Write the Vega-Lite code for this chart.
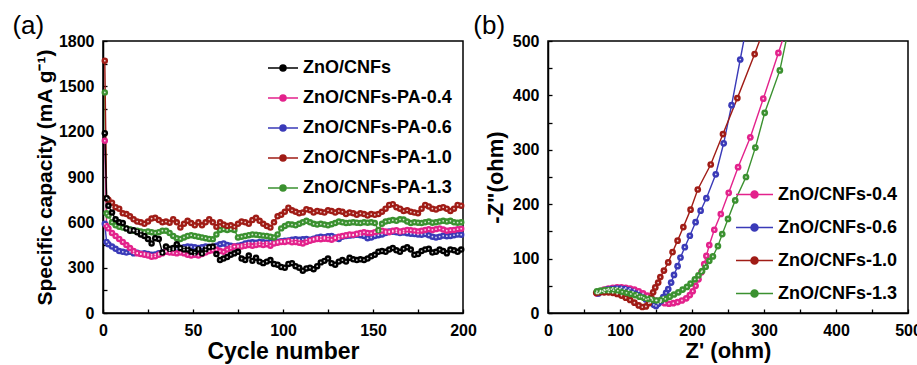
{
  "$schema": "https://vega.github.io/schema/vega-lite/v6.json",
  "padding": {"left": 11, "top": 12, "right": 0, "bottom": 0},
  "background": "white",
  "spacing": -6,
  "config": {
    "view": {"stroke": "#000", "strokeWidth": 1.5},
    "font": "Liberation Sans",
    "axis": {"grid": false, "domainColor": "#000", "domainWidth": 1.5, "tickColor": "#000", "tickWidth": 1.3, "tickSize": -4, "labelPadding": 13, "labelFont": "Liberation Sans", "labelFontWeight": "bold", "labelFontSize": 16, "labelColor": "#000", "titleFont": "Liberation Sans", "titleFontWeight": "bold", "titleColor": "#000", "labelFlush": false, "labelOverlap": false},
    "legend": {"labelFont": "Liberation Sans", "labelFontWeight": "bold", "labelFontSize": 18, "labelColor": "#000", "symbolStrokeWidth": 1.5, "labelOffset": 4, "title": null}
  },
  "resolve": {"scale": {"color": "independent"}, "legend": {"color": "independent"}},
  "hconcat": [
    {
      "width": 360, "height": 272,
      "title": {"text": "(a)", "anchor": "start", "frame": "bounds", "fontSize": 26, "font": "Liberation Sans", "fontWeight": "normal", "color": "#000", "dx": -22, "offset": -6},
      "data": {"values": [
        {"c":1,"k0":1190,"k4":1140,"k6":590,"k10":1670,"k13":1460},
        {"c":2,"k0":760,"k4":575,"k6":470,"k10":760,"k13":660},
        {"c":3,"k0":710,"k4":560,"k6":455,"k10":750,"k13":645},
        {"c":5,"k0":665,"k4":530,"k6":440,"k10":730,"k13":600},
        {"c":7,"k0":620,"k4":510,"k6":425,"k10":700,"k13":580},
        {"c":9,"k0":600,"k4":490,"k6":410,"k10":690,"k13":570},
        {"c":11,"k0":595,"k4":470,"k6":405,"k10":660,"k13":565},
        {"c":13,"k0":560,"k4":450,"k6":400,"k10":655,"k13":560},
        {"c":15,"k0":545,"k4":430,"k6":405,"k10":640,"k13":555},
        {"c":17,"k0":548,"k4":410,"k6":395,"k10":620,"k13":545},
        {"c":19,"k0":535,"k4":395,"k6":398,"k10":605,"k13":545},
        {"c":21,"k0":520,"k4":390,"k6":392,"k10":600,"k13":540},
        {"c":23,"k0":510,"k4":385,"k6":395,"k10":590,"k13":535},
        {"c":25,"k0":490,"k4":380,"k6":390,"k10":605,"k13":540},
        {"c":27,"k0":460,"k4":372,"k6":385,"k10":625,"k13":535},
        {"c":29,"k0":495,"k4":375,"k6":388,"k10":630,"k13":530},
        {"c":31,"k0":490,"k4":385,"k6":395,"k10":615,"k13":535},
        {"c":33,"k0":400,"k4":395,"k6":400,"k10":600,"k13":545},
        {"c":35,"k0":440,"k4":405,"k6":410,"k10":605,"k13":545},
        {"c":37,"k0":425,"k4":400,"k6":415,"k10":598,"k13":530},
        {"c":39,"k0":430,"k4":398,"k6":420,"k10":620,"k13":510},
        {"c":41,"k0":455,"k4":395,"k6":425,"k10":600,"k13":495},
        {"c":43,"k0":430,"k4":400,"k6":430,"k10":565,"k13":490},
        {"c":45,"k0":420,"k4":395,"k6":435,"k10":590,"k13":500},
        {"c":47,"k0":420,"k4":385,"k6":440,"k10":610,"k13":510},
        {"c":49,"k0":405,"k4":380,"k6":438,"k10":595,"k13":515},
        {"c":51,"k0":400,"k4":385,"k6":435,"k10":580,"k13":510},
        {"c":53,"k0":420,"k4":380,"k6":430,"k10":600,"k13":505},
        {"c":55,"k0":395,"k4":390,"k6":435,"k10":580,"k13":500},
        {"c":57,"k0":420,"k4":400,"k6":440,"k10":600,"k13":495},
        {"c":59,"k0":435,"k4":410,"k6":438,"k10":620,"k13":490},
        {"c":61,"k0":440,"k4":415,"k6":435,"k10":600,"k13":488},
        {"c":63,"k0":390,"k4":420,"k6":445,"k10":570,"k13":520},
        {"c":65,"k0":350,"k4":410,"k6":455,"k10":600,"k13":550},
        {"c":67,"k0":360,"k4":405,"k6":460,"k10":585,"k13":555},
        {"c":69,"k0":370,"k4":420,"k6":450,"k10":575,"k13":550},
        {"c":71,"k0":385,"k4":430,"k6":445,"k10":580,"k13":555},
        {"c":73,"k0":395,"k4":440,"k6":440,"k10":570,"k13":550},
        {"c":75,"k0":405,"k4":438,"k6":445,"k10":590,"k13":500},
        {"c":77,"k0":360,"k4":440,"k6":450,"k10":605,"k13":505},
        {"c":79,"k0":350,"k4":445,"k6":460,"k10":600,"k13":510},
        {"c":81,"k0":380,"k4":450,"k6":465,"k10":590,"k13":515},
        {"c":83,"k0":345,"k4":445,"k6":468,"k10":615,"k13":520},
        {"c":85,"k0":365,"k4":450,"k6":465,"k10":630,"k13":518},
        {"c":87,"k0":340,"k4":455,"k6":470,"k10":610,"k13":515},
        {"c":89,"k0":330,"k4":450,"k6":468,"k10":590,"k13":512},
        {"c":91,"k0":340,"k4":455,"k6":465,"k10":575,"k13":510},
        {"c":93,"k0":350,"k4":445,"k6":470,"k10":565,"k13":505},
        {"c":95,"k0":325,"k4":460,"k6":468,"k10":600,"k13":500},
        {"c":97,"k0":320,"k4":465,"k6":472,"k10":640,"k13":520},
        {"c":99,"k0":305,"k4":470,"k6":475,"k10":650,"k13":560},
        {"c":101,"k0":300,"k4":470,"k6":478,"k10":670,"k13":575},
        {"c":103,"k0":325,"k4":475,"k6":480,"k10":697,"k13":587},
        {"c":105,"k0":330,"k4":468,"k6":485,"k10":680,"k13":585},
        {"c":107,"k0":310,"k4":470,"k6":488,"k10":670,"k13":580},
        {"c":109,"k0":300,"k4":465,"k6":485,"k10":660,"k13":590},
        {"c":111,"k0":280,"k4":460,"k6":488,"k10":665,"k13":600},
        {"c":113,"k0":295,"k4":470,"k6":490,"k10":686,"k13":610},
        {"c":115,"k0":300,"k4":478,"k6":485,"k10":680,"k13":600},
        {"c":117,"k0":290,"k4":485,"k6":492,"k10":665,"k13":590},
        {"c":119,"k0":310,"k4":490,"k6":500,"k10":675,"k13":585},
        {"c":121,"k0":335,"k4":488,"k6":505,"k10":670,"k13":590},
        {"c":123,"k0":345,"k4":492,"k6":502,"k10":665,"k13":585},
        {"c":125,"k0":360,"k4":490,"k6":508,"k10":680,"k13":580},
        {"c":127,"k0":330,"k4":485,"k6":510,"k10":675,"k13":588},
        {"c":129,"k0":320,"k4":495,"k6":500,"k10":665,"k13":595},
        {"c":131,"k0":340,"k4":505,"k6":490,"k10":675,"k13":605},
        {"c":133,"k0":350,"k4":510,"k6":505,"k10":670,"k13":600},
        {"c":135,"k0":340,"k4":515,"k6":510,"k10":655,"k13":595},
        {"c":137,"k0":365,"k4":520,"k6":512,"k10":665,"k13":598},
        {"c":139,"k0":355,"k4":518,"k6":515,"k10":660,"k13":600},
        {"c":141,"k0":350,"k4":525,"k6":518,"k10":650,"k13":598},
        {"c":143,"k0":355,"k4":530,"k6":515,"k10":660,"k13":595},
        {"c":145,"k0":350,"k4":535,"k6":510,"k10":655,"k13":600},
        {"c":147,"k0":360,"k4":530,"k6":495,"k10":645,"k13":598},
        {"c":149,"k0":375,"k4":528,"k6":500,"k10":655,"k13":600},
        {"c":151,"k0":385,"k4":535,"k6":510,"k10":650,"k13":595},
        {"c":153,"k0":405,"k4":540,"k6":515,"k10":655,"k13":550},
        {"c":155,"k0":410,"k4":545,"k6":520,"k10":670,"k13":590},
        {"c":157,"k0":405,"k4":540,"k6":530,"k10":690,"k13":605},
        {"c":159,"k0":420,"k4":535,"k6":540,"k10":715,"k13":610},
        {"c":161,"k0":430,"k4":545,"k6":538,"k10":720,"k13":615},
        {"c":163,"k0":415,"k4":548,"k6":535,"k10":700,"k13":610},
        {"c":165,"k0":405,"k4":540,"k6":530,"k10":690,"k13":620},
        {"c":167,"k0":425,"k4":545,"k6":532,"k10":675,"k13":618},
        {"c":169,"k0":435,"k4":550,"k6":528,"k10":680,"k13":605},
        {"c":171,"k0":420,"k4":548,"k6":525,"k10":670,"k13":595},
        {"c":173,"k0":385,"k4":545,"k6":522,"k10":665,"k13":600},
        {"c":175,"k0":390,"k4":540,"k6":520,"k10":660,"k13":598},
        {"c":177,"k0":410,"k4":545,"k6":518,"k10":690,"k13":595},
        {"c":179,"k0":420,"k4":550,"k6":522,"k10":715,"k13":600},
        {"c":181,"k0":425,"k4":555,"k6":515,"k10":705,"k13":605},
        {"c":183,"k0":400,"k4":550,"k6":505,"k10":690,"k13":598},
        {"c":185,"k0":405,"k4":555,"k6":500,"k10":685,"k13":600},
        {"c":187,"k0":420,"k4":560,"k6":505,"k10":695,"k13":605},
        {"c":189,"k0":410,"k4":552,"k6":512,"k10":700,"k13":610},
        {"c":191,"k0":395,"k4":545,"k6":508,"k10":690,"k13":605},
        {"c":193,"k0":420,"k4":548,"k6":510,"k10":675,"k13":610},
        {"c":195,"k0":415,"k4":550,"k6":515,"k10":690,"k13":600},
        {"c":197,"k0":405,"k4":555,"k6":520,"k10":715,"k13":598},
        {"c":199,"k0":420,"k4":558,"k6":518,"k10":710,"k13":600}
      ]},
      "transform": [{"fold": ["k13", "k10", "k6", "k4", "k0"], "as": ["series", "cap"]}],
      "encoding": {
        "x": {"field": "c", "type": "quantitative", "scale": {"domain": [0, 200], "nice": false},
              "axis": {"values": [0,25,50,75,100,125,150,175,200], "labelExpr": "datum.value % 50 == 0 ? datum.label : ''", "title": "Cycle number", "titleFontSize": 23, "titlePadding": 2}},
        "y": {"field": "cap", "type": "quantitative", "scale": {"domain": [0, 1800], "nice": false},
              "axis": {"values": [0,150,300,450,600,750,900,1050,1200,1350,1500,1650,1800], "format": "d", "labelExpr": "datum.value % 300 == 0 ? datum.label : ''", "title": "Specific capacity (mA g⁻¹)", "titleFontSize": 21, "titlePadding": 3}},
        "color": {"field": "series", "type": "nominal",
                  "scale": {"domain": ["k0", "k4", "k6", "k10", "k13"], "range": ["#000000", "#e3228c", "#3a3ab8", "#a01c16", "#3b9130"]},
                  "legend": {"orient": "top-right", "offset": 11, "labelExpr": "{'k0':'ZnO/CNFs','k4':'ZnO/CNFs-PA-0.4','k6':'ZnO/CNFs-PA-0.6','k10':'ZnO/CNFs-PA-1.0','k13':'ZnO/CNFs-PA-1.3'}[datum.value]", "symbolType": "M-1,0H1M-0.2,0A0.2,0.2 0 1,1 0.2,0A0.2,0.2 0 1,1 -0.2,0Z", "symbolSize": 900, "rowPadding": 5}}
      },
      "layer": [
        {"mark": {"type": "line", "strokeWidth": 1.4}},
        {"mark": {"type": "point", "filled": true, "size": 42, "opacity": 1}, "encoding": {"order": {"field": "series", "sort": "descending"}}},
        {"mark": {"type": "point", "filled": true, "size": 3, "opacity": 0.8}, "encoding": {"color": {"value": "white"}}}
      ]
    },
    {
      "width": 360, "height": 272,
      "title": {"text": "(b)", "anchor": "start", "frame": "bounds", "fontSize": 26, "font": "Liberation Sans", "fontWeight": "normal", "color": "#000", "dx": -11, "offset": -6},
      "data": {"values": [
        {"s":"ZnO/CNFs-0.4","x":68,"y":36},{"s":"ZnO/CNFs-0.4","x":73,"y":40},{"s":"ZnO/CNFs-0.4","x":78,"y":43},{"s":"ZnO/CNFs-0.4","x":84,"y":45},{"s":"ZnO/CNFs-0.4","x":90,"y":46},{"s":"ZnO/CNFs-0.4","x":96,"y":47},{"s":"ZnO/CNFs-0.4","x":102,"y":47},{"s":"ZnO/CNFs-0.4","x":108,"y":46},{"s":"ZnO/CNFs-0.4","x":114,"y":45},{"s":"ZnO/CNFs-0.4","x":120,"y":43},{"s":"ZnO/CNFs-0.4","x":126,"y":40},{"s":"ZnO/CNFs-0.4","x":132,"y":36},{"s":"ZnO/CNFs-0.4","x":138,"y":32},{"s":"ZnO/CNFs-0.4","x":144,"y":27},{"s":"ZnO/CNFs-0.4","x":150,"y":23},{"s":"ZnO/CNFs-0.4","x":156,"y":20},{"s":"ZnO/CNFs-0.4","x":162,"y":18},{"s":"ZnO/CNFs-0.4","x":168,"y":17},{"s":"ZnO/CNFs-0.4","x":174,"y":18},{"s":"ZnO/CNFs-0.4","x":180,"y":20},{"s":"ZnO/CNFs-0.4","x":186,"y":23},{"s":"ZnO/CNFs-0.4","x":192,"y":27},{"s":"ZnO/CNFs-0.4","x":197,"y":33},{"s":"ZnO/CNFs-0.4","x":201,"y":40},{"s":"ZnO/CNFs-0.4","x":205,"y":50},{"s":"ZnO/CNFs-0.4","x":209,"y":62},{"s":"ZnO/CNFs-0.4","x":213,"y":75},{"s":"ZnO/CNFs-0.4","x":217,"y":90},{"s":"ZnO/CNFs-0.4","x":220,"y":105},{"s":"ZnO/CNFs-0.4","x":224,"y":125},{"s":"ZnO/CNFs-0.4","x":231,"y":153},{"s":"ZnO/CNFs-0.4","x":240,"y":182},{"s":"ZnO/CNFs-0.4","x":251,"y":221},{"s":"ZnO/CNFs-0.4","x":264,"y":268},{"s":"ZnO/CNFs-0.4","x":281,"y":323},{"s":"ZnO/CNFs-0.4","x":299,"y":394},{"s":"ZnO/CNFs-0.4","x":320,"y":478},{"s":"ZnO/CNFs-0.4","x":329,"y":515},
        {"s":"ZnO/CNFs-0.6","x":70,"y":36},{"s":"ZnO/CNFs-0.6","x":76,"y":40},{"s":"ZnO/CNFs-0.6","x":82,"y":43},{"s":"ZnO/CNFs-0.6","x":88,"y":44},{"s":"ZnO/CNFs-0.6","x":94,"y":45},{"s":"ZnO/CNFs-0.6","x":100,"y":45},{"s":"ZnO/CNFs-0.6","x":106,"y":44},{"s":"ZnO/CNFs-0.6","x":112,"y":42},{"s":"ZnO/CNFs-0.6","x":118,"y":39},{"s":"ZnO/CNFs-0.6","x":124,"y":35},{"s":"ZnO/CNFs-0.6","x":130,"y":30},{"s":"ZnO/CNFs-0.6","x":136,"y":25},{"s":"ZnO/CNFs-0.6","x":142,"y":19},{"s":"ZnO/CNFs-0.6","x":147,"y":15},{"s":"ZnO/CNFs-0.6","x":150,"y":13},{"s":"ZnO/CNFs-0.6","x":153,"y":17},{"s":"ZnO/CNFs-0.6","x":157,"y":22},{"s":"ZnO/CNFs-0.6","x":160,"y":29},{"s":"ZnO/CNFs-0.6","x":164,"y":37},{"s":"ZnO/CNFs-0.6","x":167,"y":44},{"s":"ZnO/CNFs-0.6","x":171,"y":56},{"s":"ZnO/CNFs-0.6","x":175,"y":70},{"s":"ZnO/CNFs-0.6","x":180,"y":86},{"s":"ZnO/CNFs-0.6","x":184,"y":102},{"s":"ZnO/CNFs-0.6","x":190,"y":121},{"s":"ZnO/CNFs-0.6","x":197,"y":142},{"s":"ZnO/CNFs-0.6","x":205,"y":167},{"s":"ZnO/CNFs-0.6","x":212,"y":188},{"s":"ZnO/CNFs-0.6","x":220,"y":211},{"s":"ZnO/CNFs-0.6","x":233,"y":255},{"s":"ZnO/CNFs-0.6","x":244,"y":312},{"s":"ZnO/CNFs-0.6","x":255,"y":382},{"s":"ZnO/CNFs-0.6","x":267,"y":466},{"s":"ZnO/CNFs-0.6","x":274,"y":515},
        {"s":"ZnO/CNFs-1.0","x":67,"y":37},{"s":"ZnO/CNFs-1.0","x":72,"y":38},{"s":"ZnO/CNFs-1.0","x":78,"y":38},{"s":"ZnO/CNFs-1.0","x":84,"y":38},{"s":"ZnO/CNFs-1.0","x":90,"y":37},{"s":"ZnO/CNFs-1.0","x":96,"y":35},{"s":"ZnO/CNFs-1.0","x":102,"y":32},{"s":"ZnO/CNFs-1.0","x":108,"y":28},{"s":"ZnO/CNFs-1.0","x":114,"y":24},{"s":"ZnO/CNFs-1.0","x":120,"y":19},{"s":"ZnO/CNFs-1.0","x":126,"y":14},{"s":"ZnO/CNFs-1.0","x":131,"y":11},{"s":"ZnO/CNFs-1.0","x":136,"y":12},{"s":"ZnO/CNFs-1.0","x":140,"y":18},{"s":"ZnO/CNFs-1.0","x":143,"y":28},{"s":"ZnO/CNFs-1.0","x":146,"y":38},{"s":"ZnO/CNFs-1.0","x":149,"y":47},{"s":"ZnO/CNFs-1.0","x":153,"y":56},{"s":"ZnO/CNFs-1.0","x":156,"y":66},{"s":"ZnO/CNFs-1.0","x":161,"y":78},{"s":"ZnO/CNFs-1.0","x":167,"y":93},{"s":"ZnO/CNFs-1.0","x":173,"y":112},{"s":"ZnO/CNFs-1.0","x":180,"y":133},{"s":"ZnO/CNFs-1.0","x":188,"y":158},{"s":"ZnO/CNFs-1.0","x":198,"y":190},{"s":"ZnO/CNFs-1.0","x":208,"y":227},{"s":"ZnO/CNFs-1.0","x":226,"y":273},{"s":"ZnO/CNFs-1.0","x":243,"y":329},{"s":"ZnO/CNFs-1.0","x":263,"y":395},{"s":"ZnO/CNFs-1.0","x":287,"y":476},{"s":"ZnO/CNFs-1.0","x":298,"y":515},
        {"s":"ZnO/CNFs-1.3","x":68,"y":40},{"s":"ZnO/CNFs-1.3","x":73,"y":41},{"s":"ZnO/CNFs-1.3","x":79,"y":42},{"s":"ZnO/CNFs-1.3","x":85,"y":42},{"s":"ZnO/CNFs-1.3","x":91,"y":42},{"s":"ZnO/CNFs-1.3","x":97,"y":41},{"s":"ZnO/CNFs-1.3","x":103,"y":39},{"s":"ZnO/CNFs-1.3","x":109,"y":37},{"s":"ZnO/CNFs-1.3","x":115,"y":35},{"s":"ZnO/CNFs-1.3","x":121,"y":33},{"s":"ZnO/CNFs-1.3","x":127,"y":30},{"s":"ZnO/CNFs-1.3","x":133,"y":28},{"s":"ZnO/CNFs-1.3","x":139,"y":26},{"s":"ZnO/CNFs-1.3","x":145,"y":24},{"s":"ZnO/CNFs-1.3","x":151,"y":23},{"s":"ZnO/CNFs-1.3","x":157,"y":24},{"s":"ZnO/CNFs-1.3","x":163,"y":26},{"s":"ZnO/CNFs-1.3","x":169,"y":30},{"s":"ZnO/CNFs-1.3","x":175,"y":34},{"s":"ZnO/CNFs-1.3","x":181,"y":38},{"s":"ZnO/CNFs-1.3","x":187,"y":43},{"s":"ZnO/CNFs-1.3","x":193,"y":48},{"s":"ZnO/CNFs-1.3","x":198,"y":54},{"s":"ZnO/CNFs-1.3","x":204,"y":62},{"s":"ZnO/CNFs-1.3","x":209,"y":69},{"s":"ZnO/CNFs-1.3","x":214,"y":77},{"s":"ZnO/CNFs-1.3","x":219,"y":85},{"s":"ZnO/CNFs-1.3","x":224,"y":96},{"s":"ZnO/CNFs-1.3","x":229,"y":104},{"s":"ZnO/CNFs-1.3","x":236,"y":123},{"s":"ZnO/CNFs-1.3","x":242,"y":145},{"s":"ZnO/CNFs-1.3","x":250,"y":173},{"s":"ZnO/CNFs-1.3","x":260,"y":207},{"s":"ZnO/CNFs-1.3","x":275,"y":250},{"s":"ZnO/CNFs-1.3","x":288,"y":304},{"s":"ZnO/CNFs-1.3","x":301,"y":368},{"s":"ZnO/CNFs-1.3","x":322,"y":446},{"s":"ZnO/CNFs-1.3","x":333,"y":515}
      ]},
      "encoding": {
        "x": {"field": "x", "type": "quantitative", "scale": {"domain": [0, 500], "nice": false},
              "axis": {"values": [0,50,100,150,200,250,300,350,400,450,500], "labelExpr": "datum.value % 100 == 0 ? datum.label : ''", "title": "Z' (ohm)", "titleFontSize": 22, "titlePadding": 2}},
        "y": {"field": "y", "type": "quantitative", "scale": {"domain": [0, 500], "nice": false},
              "axis": {"values": [0,50,100,150,200,250,300,350,400,450,500], "labelExpr": "datum.value % 100 == 0 ? datum.label : ''", "title": "-Z\"(ohm)", "titleFontSize": 22, "titlePadding": 5}},
        "color": {"field": "s", "type": "nominal",
                  "scale": {"domain": ["ZnO/CNFs-0.4", "ZnO/CNFs-0.6", "ZnO/CNFs-1.0", "ZnO/CNFs-1.3"], "range": ["#e3228c", "#3a3ab8", "#a01c16", "#3b9130"]},
                  "legend": {"orient": "bottom-right", "offset": 10, "symbolType": "M-1,0H1M-0.19,0A0.19,0.19 0 1,1 0.19,0A0.19,0.19 0 1,1 -0.19,0Z", "symbolSize": 1369, "rowPadding": 4}}
      },
      "layer": [
        {"mark": {"type": "line", "strokeWidth": 1.4, "clip": true}},
        {"mark": {"type": "point", "filled": true, "size": 45, "opacity": 1, "clip": true}, "encoding": {"order": {"field": "s", "sort": "ascending"}}},
        {"mark": {"type": "point", "filled": true, "size": 3, "opacity": 0.8, "clip": true}, "encoding": {"color": {"value": "white"}}}
      ]
    }
  ]
}
